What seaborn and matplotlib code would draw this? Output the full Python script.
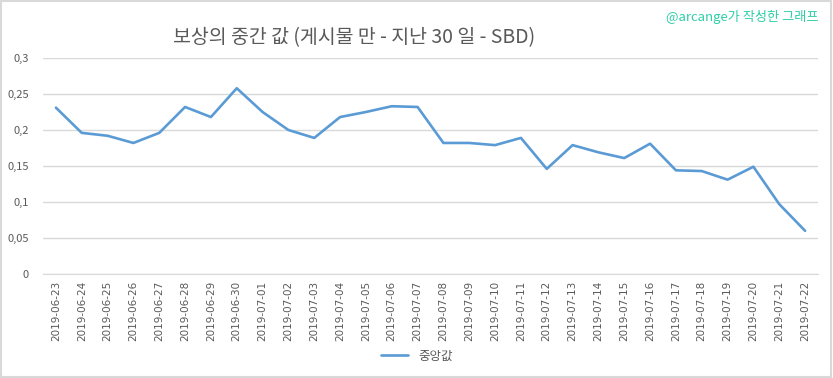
import pandas as pd
import numpy as np
import matplotlib
matplotlib.use("Agg")
import matplotlib.pyplot as plt
import seaborn as sns

dates = ["2019-06-23", "2019-06-24", "2019-06-25", "2019-06-26", "2019-06-27",
         "2019-06-28", "2019-06-29", "2019-06-30", "2019-07-01", "2019-07-02",
         "2019-07-03", "2019-07-04", "2019-07-05", "2019-07-06", "2019-07-07",
         "2019-07-08", "2019-07-09", "2019-07-10", "2019-07-11", "2019-07-12",
         "2019-07-13", "2019-07-14", "2019-07-15", "2019-07-16", "2019-07-17",
         "2019-07-18", "2019-07-19", "2019-07-20", "2019-07-21", "2019-07-22"]
median_sbd = [0.231, 0.196, 0.192, 0.182, 0.196, 0.232, 0.218, 0.258, 0.225, 0.200,
              0.189, 0.218, 0.225, 0.233, 0.232, 0.182, 0.182, 0.179, 0.189, 0.146,
              0.179, 0.169, 0.161, 0.181, 0.144, 0.143, 0.131, 0.149, 0.097, 0.060]
y_ticks = [0, 0.05, 0.1, 0.15, 0.2, 0.25, 0.3]
y_labels = ["0", "0,05", "0,1", "0,15", "0,2", "0,25", "0,3"]

sns.set_style("white")
plt.rcParams['font.family'] = ['Noto Sans CJK KR', 'DejaVu Sans']

df = pd.DataFrame({"date": dates, "value": median_sbd, "series": "중앙값"})
df["pos"] = np.arange(len(dates))

fig = plt.figure(figsize=(8.33, 3.78), dpi=100)
# axes box in pixels: left 43, right 818, top 58, bottom 274
ax = fig.add_axes([43 / 833, 1 - 274 / 378, (818 - 43) / 833, (274 - 58) / 378])

sns.lineplot(data=df, x="pos", y="value", hue="series", palette=["#5B9BD5"],
             linewidth=1.9, ax=ax)

ax.set_xlim(-0.5, len(dates) - 0.5)
ax.set_ylim(0, 0.3)
ax.set_yticks(y_ticks)
ax.set_yticklabels(y_labels, fontsize=8, color="#595959")
ax.set_xticks(df["pos"])
ax.set_xticklabels(dates, rotation=90, fontsize=7.5, color="#595959",
                   family=['DejaVu Sans'])
ax.tick_params(axis="y", length=0, pad=10)
ax.tick_params(axis="x", length=0, pad=5)
ax.yaxis.grid(True, color="#D9D9D9", linewidth=1)
ax.set_axisbelow(True)
for s in ["top", "right", "left"]:
    ax.spines[s].set_visible(False)
ax.spines["bottom"].set_color("#D9D9D9")
ax.set_xlabel("")
ax.set_ylabel("")

ax.legend(loc="center", bbox_to_anchor=(0.5, 1 - 356 / 378), bbox_transform=fig.transFigure,
          frameon=False, fontsize=9, handlelength=2.2, labelcolor="#595959")

fig.text(354 / 833, 1 - 38 / 378, "보상의 중간 값 (게시물 만 - 지난 30 일 - SBD)",
         ha="center", va="center", fontsize=14, color="#595959")
fig.text(819 / 833, 1 - 17 / 378, "@arcange가 작성한 그래프",
         ha="right", va="center", fontsize=9.5, color="#2FCFA8")

fig.patches.append(plt.Rectangle((0.001, 0.002), 0.997, 0.995, transform=fig.transFigure,
                                 fill=False, edgecolor="#D9D9D9", linewidth=1.5))

fig.savefig("out.png", dpi=100)
